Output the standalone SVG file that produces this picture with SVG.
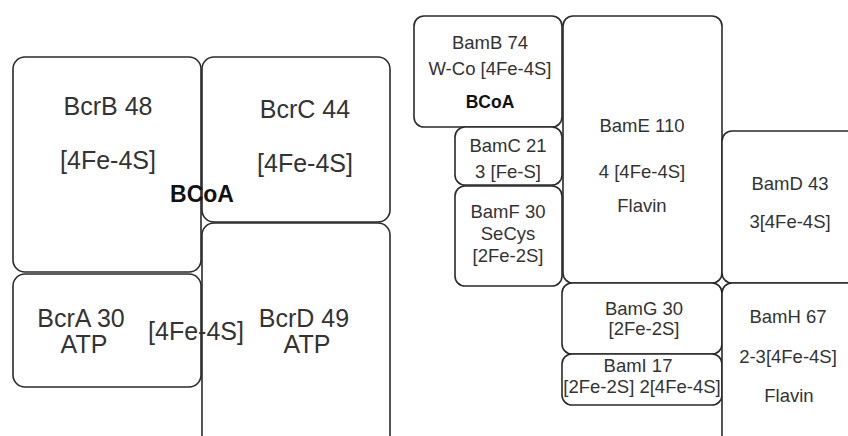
<svg xmlns="http://www.w3.org/2000/svg" width="848" height="436" viewBox="0 0 848 436">
<style>
.box{fill:#fff;stroke:#2a2a2a;stroke-width:1.6}
.t{font-family:"Liberation Sans",Arial,sans-serif;fill:#333;text-anchor:middle}
.L{font-size:25px}
.R{font-size:18.5px}
.b{font-weight:bold;fill:#111}
</style>
<rect width="848" height="436" fill="#fff"/>
<g id="connectors"></g>
<g id="BcrB"><rect class="box" x="13" y="57" width="188" height="215" rx="12"/>
<text class="t L" x="108" y="115">BcrB 48</text><text class="t L" x="108" y="169">[4Fe-4S]</text></g>
<g id="BcrC"><rect class="box" x="202" y="57" width="188" height="165" rx="12"/>
<text class="t L" x="305" y="118">BcrC 44</text><text class="t L" x="305" y="172">[4Fe-4S]</text></g>
<g id="BcrA"><rect class="box" x="13" y="274" width="188" height="113" rx="12"/>
<text class="t L" x="81" y="327">BcrA 30</text><text class="t L" x="84" y="353">ATP</text></g>
<g id="BcrD"><rect class="box" x="202" y="223" width="188" height="225" rx="12"/>
<text class="t L" x="304" y="327">BcrD 49</text><text class="t L" x="307" y="353">ATP</text></g>
<g id="labels-left">
<text class="t b" x="202" y="202" font-size="23">BCoA</text>
<text class="t L" x="196" y="340">[4Fe-4S]</text>
</g>
<g id="BamB"><rect class="box" x="414" y="16" width="148" height="111" rx="10"/>
<text class="t R" x="490" y="49">BamB 74</text><text class="t R" x="490" y="75">W-Co [4Fe-4S]</text>
<text class="t b" x="490" y="108" font-size="17.5">BCoA</text></g>
<g id="BamE"><rect class="box" x="563" y="16" width="159" height="267" rx="10"/>
<text class="t R" x="642" y="132">BamE 110</text><text class="t R" x="642" y="178">4 [4Fe-4S]</text><text class="t R" x="642" y="212">Flavin</text></g>
<g id="BamC"><rect class="box" x="455" y="127" width="107" height="58" rx="10"/>
<text class="t R" x="508" y="152">BamC 21</text><text class="t R" x="508" y="178">3 [Fe-S]</text></g>
<g id="BamF"><rect class="box" x="455" y="186" width="107" height="100" rx="10"/>
<text class="t R" x="508" y="218">BamF 30</text><text class="t R" x="508" y="240">SeCys</text><text class="t R" x="508" y="262">[2Fe-2S]</text></g>
<g id="BamD"><rect class="box" x="722" y="131" width="140" height="152" rx="10"/>
<text class="t R" x="790" y="190">BamD 43</text><text class="t R" x="790" y="228">3[4Fe-4S]</text></g>
<g id="BamG"><rect class="box" x="562" y="283" width="160" height="71" rx="10"/>
<text class="t R" x="644" y="315">BamG 30</text><text class="t R" x="644" y="335">[2Fe-2S]</text></g>
<g id="BamI"><rect class="box" x="562" y="354" width="160" height="51" rx="10"/>
<text class="t R" x="638" y="372">BamI 17</text><text class="t R" x="642" y="393">[2Fe-2S] 2[4Fe-4S]</text></g>
<g id="BamH"><rect class="box" x="722" y="283" width="140" height="170" rx="10"/>
<text class="t R" x="788" y="323">BamH 67</text><text class="t R" x="788" y="363">2-3[4Fe-4S]</text><text class="t R" x="789" y="402">Flavin</text></g>
</svg>
